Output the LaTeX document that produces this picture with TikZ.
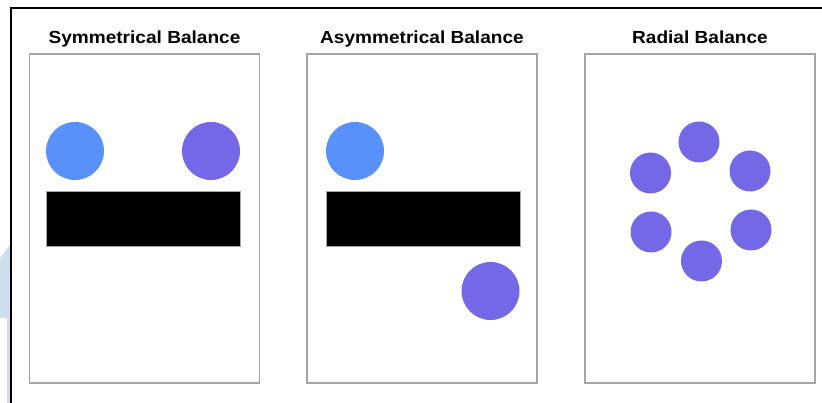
\documentclass[tikz,border=0pt]{standalone}
\usepackage{fontspec}
\setmainfont{Liberation Sans}
\usepackage{tikz}
\usetikzlibrary{positioning}
\definecolor{skyblob}{RGB}{88,145,250}
\definecolor{violetblob}{RGB}{116,104,230}
\definecolor{framegray}{RGB}{165,165,165}
\definecolor{sidebar}{RGB}{205,222,240}

\begin{document}
\begin{tikzpicture}[x=1pt, y=-1pt,
  panel/.style={draw=framegray, line width=1.3pt, minimum width=230pt, minimum height=329pt, inner sep=0pt},
  title/.style={font=\fontsize{17.5}{20}\selectfont\bfseries, xscale=1.09, inner sep=0pt, anchor=base},
  ball/.style={circle, inner sep=0pt, minimum size=58pt},
  dot/.style={circle, inner sep=0pt, minimum size=41pt, fill=violetblob},
  bar/.style={fill=black, draw=framegray, line width=0.4pt, minimum width=194pt, minimum height=55pt, inner sep=0pt}]
\useasboundingbox (0,0) rectangle (822,403);
\fill[white] (0,0) rectangle (822,403);
\fill[sidebar] (0,258) -- (10,245) -- (10,403) -- (7,403) -- (7,318) -- (0,318) -- cycle;
\coordinate (corner) at (11,8);
\coordinate (topend) at (822,8);
\coordinate (leftend) at (11,403);
\draw[line width=1.6pt] (leftend) -- (corner) -- (topend);
% panels
\node[panel] (sym) at (144.5,218.5) {};
\node[panel] (asym) at (422,218.5) {};
\node[panel] (rad) at (700,218.5) {};
\node[title] (symtitle) at (144.5,44) {Symmetrical Balance};
\node[title] (asymtitle) at (422,44) {Asymmetrical Balance};
\node[title] (radtitle) at (700,44) {Radial Balance};
% symmetrical
\node[ball, fill=skyblob] (sblue) at (75,151) {};
\node[ball, fill=violetblob] (spurple) at (211,151) {};
\node[bar] (sbar) at (143,218.5) {};
% asymmetrical
\node[ball, fill=skyblob] (ablue) at (355,151) {};
\node[bar] (abar) at (423,218.5) {};
\node[ball, fill=violetblob] (apurple) at (490.5,291) {};
% radial
\node[dot] (rtop) at (699,142) {};
\node[dot] (rul) at (650.5,173) {};
\node[dot] (rur) at (750,171) {};
\node[dot] (rll) at (651,232) {};
\node[dot] (rlr) at (751,230) {};
\node[dot] (rbot) at (701.5,261) {};
\end{tikzpicture}
\end{document}
